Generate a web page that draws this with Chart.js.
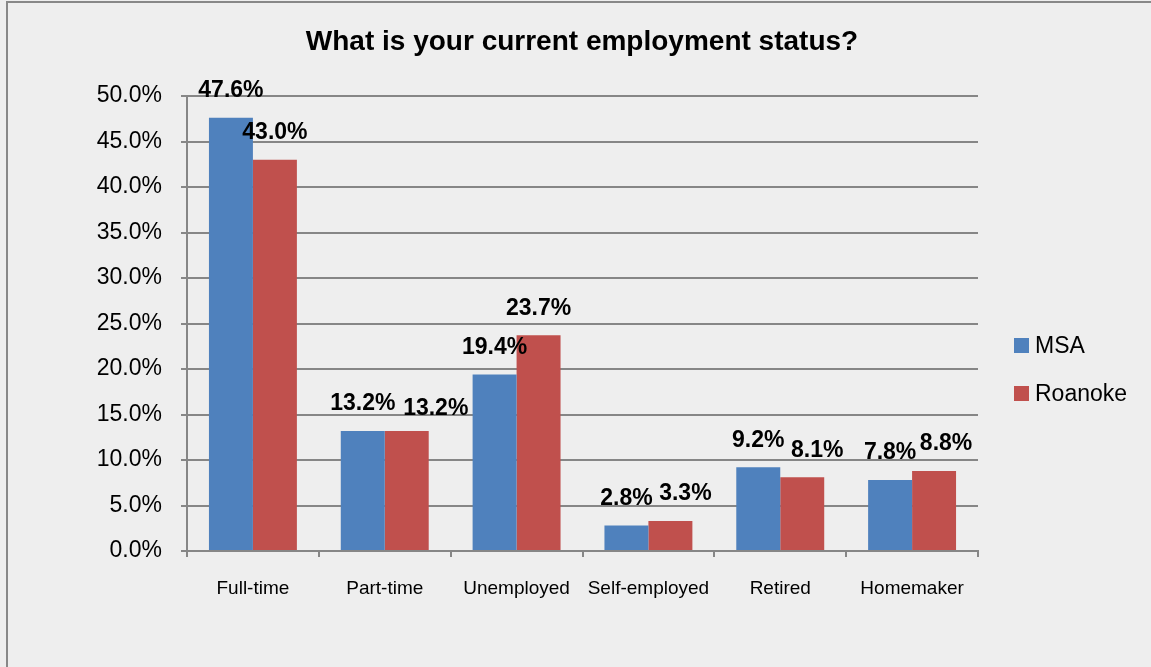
<!DOCTYPE html>
<html>
<head>
<meta charset="utf-8">
<title>Employment status</title>
<script src="https://cdn.jsdelivr.net/npm/chart.js@4.4.0/dist/chart.umd.min.js"></script>
<style>
  html, body { margin: 0; padding: 0; background: #eeeeee; overflow: hidden; }
  #frame { position: absolute; left: 6px; top: 1px; width: 1200px; height: 720px; border: 2px solid #888888; box-sizing: border-box; }
  #wrap { position: absolute; left: 0; top: 0; width: 1151px; height: 667px; }
</style>
</head>
<body>
<div id="frame"></div>
<div id="wrap"><canvas id="chart" width="1151" height="667"></canvas></div>
<script>
// survey answers, percent of respondents
const categories = ['Full-time', 'Part-time', 'Unemployed', 'Self-employed', 'Retired', 'Homemaker'];
const seriesNames = ['MSA', 'Roanoke'];
const msaValues = [47.6, 13.2, 19.4, 2.8, 9.2, 7.8];
const roanokeValues = [43.0, 13.2, 23.7, 3.3, 8.1, 8.8];
const yTicks = [0, 5, 10, 15, 20, 25, 30, 35, 40, 45, 50];
const chartTitle = 'What is your current employment status?';

const colors = ['#4f81bd', '#c0504d'];
const FONT = '"Liberation Sans", Arial, sans-serif';

// label nudges so neighbouring labels don't collide
const labelShiftX = [[0, 0, 0, 0, 0, 0], [0, 29, 0, 15, 15, 12]];
const labelShiftY = [[0, 0, 0, 0, 0, 0], [0, 5, 0, 0, 0, 0]];

const extras = {
    id: 'extras',
    afterDatasetsDraw(chart) {
        const ctx = chart.ctx;
        ctx.save();
        ctx.fillStyle = '#000';
        ctx.textAlign = 'center';
        ctx.textBaseline = 'middle';

        // value labels above bars
        ctx.font = 'bold 23px ' + FONT;
        chart.data.datasets.forEach((ds, i) => {
            chart.getDatasetMeta(i).data.forEach((bar, j) => {
                const txt = ds.data[j].toFixed(1) + '%';
                ctx.fillText(txt, bar.x + labelShiftX[i][j], bar.y - 27 + labelShiftY[i][j]);
            });
        });

        // title
        ctx.font = 'bold 28px ' + FONT;
        ctx.fillText(chartTitle, 582, 42);

        // legend
        ctx.textAlign = 'left';
        ctx.font = '23px ' + FONT;
        seriesNames.forEach((name, i) => {
            const cy = 345.5 + i * 48;
            ctx.fillStyle = colors[i];
            ctx.fillRect(1014, cy - 7.5, 15, 15);
            ctx.fillStyle = '#000';
            ctx.fillText(name, 1035, cy + 1);
        });
        ctx.restore();
    }
};

new Chart(document.getElementById('chart').getContext('2d'), {
    type: 'bar',
    data: {
        labels: categories,
        datasets: [
            { label: seriesNames[0], data: msaValues, backgroundColor: colors[0] },
            { label: seriesNames[1], data: roanokeValues, backgroundColor: colors[1] }
        ]
    },
    options: {
        responsive: false,
        animation: false,
        layout: { padding: { top: 96, right: 173, left: 0, bottom: 0 } },
        categoryPercentage: 0.667,
        barPercentage: 1.0,
        plugins: {
            legend: { display: false },
            title: { display: false },
            tooltip: { enabled: false }
        },
        scales: {
            x: {
                grid: { drawOnChartArea: false, drawTicks: true, tickLength: 6, offset: true, color: '#868686', lineWidth: 2 },
                border: { color: '#868686', width: 2 },
                ticks: { color: '#000', font: { family: FONT, size: 19 }, padding: 20, maxRotation: 0, autoSkip: false },
                afterFit(scale) { scale.height = 116; }
            },
            y: {
                min: 0,
                max: 50,
                afterBuildTicks(scale) { scale.ticks = yTicks.map(v => ({ value: v })); },
                grid: { color: '#868686', lineWidth: 2, tickLength: 6 },
                border: { color: '#868686', width: 2 },
                ticks: {
                    color: '#000',
                    font: { family: FONT, size: 23 },
                    padding: 19,
                    callback: v => v.toFixed(1) + '%'
                },
                afterFit(scale) { scale.width = 187; }
            }
        }
    },
    plugins: [extras]
});
</script>
</body>
</html>
